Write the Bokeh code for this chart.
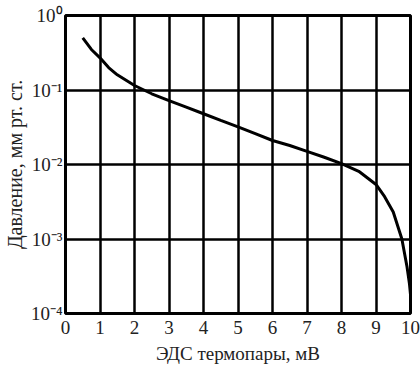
from bokeh.plotting import figure
from bokeh.models import Range1d, FixedTicker
from bokeh.embed import file_html
from bokeh.resources import INLINE

# data
emf_mv = [0.5, 0.75, 1.0, 1.25, 1.5, 2.0, 2.5, 3.0, 3.5, 4.0, 4.5, 5.0, 5.5, 6.0, 6.5, 7.0,
          7.5, 8.0, 8.5, 9.0, 9.25, 9.5, 9.75, 9.9, 9.97, 10.0]
pressure = [0.50, 0.35, 0.27, 0.20, 0.16, 0.115, 0.089, 0.072, 0.059, 0.048, 0.039, 0.032,
            0.026, 0.021, 0.018, 0.015, 0.0125, 0.0103, 0.0081, 0.0054, 0.0037, 0.0023,
            0.0010, 0.00042, 0.00025, 0.00018]
x_ticks = list(range(0, 11))
y_ticks = [1e-4, 1e-3, 1e-2, 1e-1, 1.0]
y_tick_labels = {1e-4: "10⁻⁴", 1e-3: "10⁻³", 1e-2: "10⁻²", 1e-1: "10⁻¹", 1.0: "10⁰"}
x_label = "ЭДС термопары, мВ"
y_label = "Давление, мм рт. ст."

FONT = "Liberation Serif"

p = figure(width=420, height=385, y_axis_type="log", output_backend="svg",
           toolbar_location=None, x_range=Range1d(0, 10), y_range=Range1d(1e-4, 1),
           min_border_left=64, min_border_right=10, min_border_top=15, min_border_bottom=72)

p.line(emf_mv, pressure, line_color="black", line_width=3)

p.xaxis.ticker = FixedTicker(ticks=x_ticks)
p.yaxis.ticker = FixedTicker(ticks=y_ticks)
p.xgrid.ticker = FixedTicker(ticks=x_ticks)
p.ygrid.ticker = FixedTicker(ticks=y_ticks)
p.yaxis.major_label_overrides = {v: s for v, s in y_tick_labels.items()}

for g in (p.xgrid, p.ygrid):
    g.grid_line_color = "black"
    g.grid_line_width = 2.5
    g.grid_line_alpha = 1.0

p.outline_line_color = "black"
p.outline_line_width = 3
p.outline_line_alpha = 1.0

for ax in (p.xaxis, p.yaxis):
    ax.axis_line_color = None
    ax.major_tick_line_color = None
    ax.minor_tick_line_color = None
    ax.major_tick_out = 0
    ax.major_tick_in = 0
    ax.minor_tick_out = 0
    ax.major_label_text_font = FONT
    ax.major_label_text_font_size = "19px"
    ax.major_label_text_color = "#222222"
    ax.axis_label_text_font = FONT
    ax.axis_label_text_font_style = "normal"
    ax.axis_label_text_color = "#222222"

p.xaxis.axis_label_text_font_size = "19px"
p.yaxis.axis_label_text_font_size = "20px"
p.xaxis.axis_label = x_label
p.yaxis.axis_label = y_label
p.xaxis.major_label_standoff = 7
p.yaxis.major_label_standoff = 3
p.xaxis.axis_label_standoff = 6
p.yaxis.axis_label_standoff = 2

p.background_fill_color = "white"
p.border_fill_color = "white"

open("out.html", "w").write(file_html(p, INLINE))
